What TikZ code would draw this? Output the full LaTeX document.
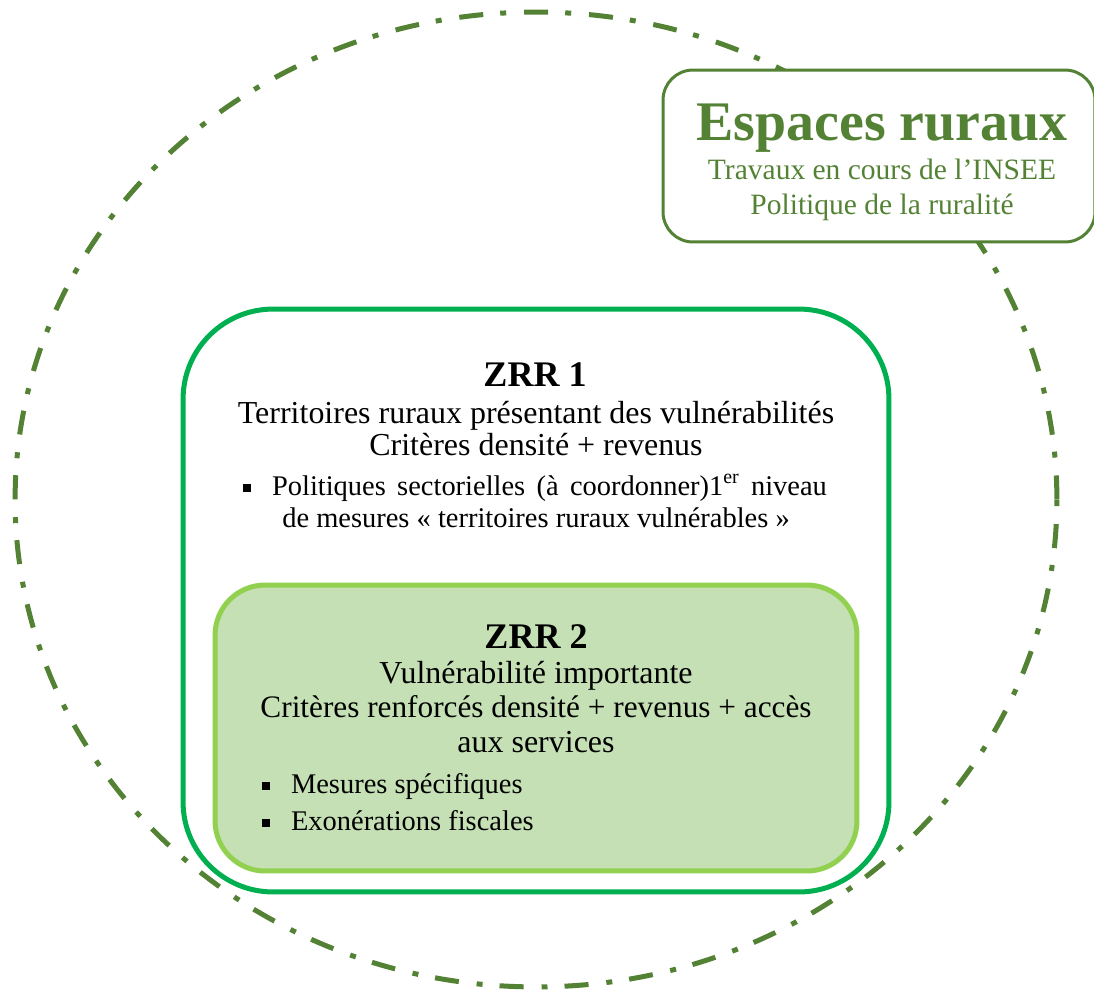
\documentclass[tikz,border=0pt]{standalone}
\usepackage{fontspec}
\setmainfont{Liberation Serif}
\usepackage{tikz}
\usetikzlibrary{shapes.geometric}
\definecolor{ruralgreen}{HTML}{548235}
\definecolor{zrrgreen}{HTML}{00B050}
\definecolor{zrrlight}{HTML}{92D050}
\definecolor{zrrfill}{HTML}{C5E0B4}
\tikzstyle{espace} = [ellipse, draw=ruralgreen, line width=2.85pt,
dash pattern=on 13.7pt off 10.2pt on 3.4pt off 9.7pt,
minimum width=20.84cm,
minimum height=19.5cm,
inner sep=0pt]
\tikzstyle{cadre} = [rectangle, rounded corners=0.6cm,
minimum width=8.64cm,
minimum height=3.44cm,
draw=ruralgreen, line width=1.7pt,
fill=white]
\tikzstyle{zrr} = [rectangle, rounded corners=1.8cm,
minimum width=14.12cm,
minimum height=11.66cm,
draw=zrrgreen, line width=2.85pt,
fill=white]
\tikzstyle{zrrin} = [rectangle, rounded corners=1cm,
minimum width=12.84cm,
minimum height=5.72cm,
draw=zrrlight, line width=2.85pt,
fill=zrrfill]
\tikzstyle{txt} = [inner sep=0pt, anchor=base, font=\fontsize{18.2}{22}\selectfont]
\tikzstyle{ttl} = [inner sep=0pt, anchor=base, font=\fontsize{20.5}{24}\selectfont\bfseries]
\tikzstyle{puce} = [inner sep=0pt, anchor=base west, font=\fontsize{16.2}{20}\selectfont]
\tikzstyle{esptxt} = [inner sep=0pt, anchor=base, text=ruralgreen, font=\fontsize{16.8}{20}\selectfont]
\newcommand{\carre}{\rule[0.1em]{0.27em}{0.27em}\hspace{0.42cm}}

\begin{document}
\begin{tikzpicture}[x=0.02cm, y=-0.02cm]
            \useasboundingbox (0,0) rectangle (1094,991);

            \node (espace) [espace] at (536,499.5) {};
            \node (cadre)  [cadre]  at (879,156) {};
            \node (z1)     [zrr]    at (536,600.5) {};
            \node (z2)     [zrrin]  at (536,728) {};

            \node (esptitre) [esptxt, font=\fontsize{31.8}{36}\selectfont\bfseries] at (882,140) {Espaces ruraux};
            \node (espl1)    [esptxt] at (882,179) {Travaux en cours de l’INSEE};
            \node (espl2)    [esptxt] at (882,214) {Politique de la ruralité};

            \node (z1titre) [ttl] at (535,386) {ZRR 1};
            \node (z1l1)    [txt] at (536,423) {Territoires ruraux présentant des vulnérabilités};
            \node (z1l2)    [txt] at (536,455) {Critères densité + revenus};
            \node (z1p1)    [puce] at (243,495) {\carre\makebox[11.1cm][s]{Politiques sectorielles (à coordonner)1\textsuperscript{er} niveau}};
            \node (z1p2)    [puce, anchor=base] at (536,527) {de mesures «~territoires ruraux vulnérables~»};

            \node (z2titre) [ttl] at (536,648) {ZRR 2};
            \node (z2l1)    [txt] at (536,683) {Vulnérabilité importante};
            \node (z2l2)    [txt, font=\fontsize{17.8}{22}\selectfont] at (536,717) {Critères renforcés densité + revenus + accès};
            \node (z2l3)    [txt] at (536,752) {aux services};
            \node (z2p1)    [puce] at (262,793) {\carre Mesures spécifiques};
            \node (z2p2)    [puce] at (262,830) {\carre Exonérations fiscales};

        \end{tikzpicture}
\end{document}
